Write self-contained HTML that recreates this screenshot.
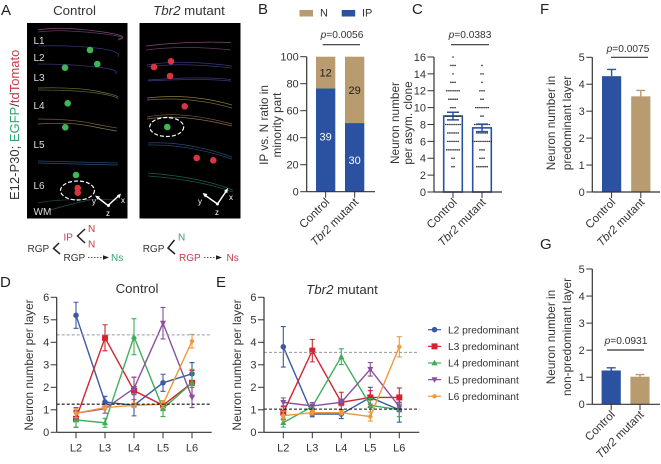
<!DOCTYPE html>
<html lang="en">
<head>
<meta charset="utf-8">
<title>Tbr2 mutant clone analysis</title>
<style>
html,body{margin:0;padding:0;background:#fff;}
svg{display:block;font-family:"Liberation Sans",sans-serif;fill:#333;}
text{font-size:11px;}
.cap{font-size:13.3px;}
.side{font-size:13px;}
.ttl{font-size:11.8px;}
.grp{font-size:11.5px;}
.pv{font-size:10.2px;}
.letter{font-size:15px;fill:#222;}
.ly{font-size:10px;fill:#ddd;}
.sch{font-size:10px;}
.it{font-style:italic;}
</style>
</head>
<body>
<svg id="fig" width="661" height="464" viewBox="0 0 661 464" xmlns="http://www.w3.org/2000/svg" style="filter:blur(.35px)">
<rect width="661" height="464" fill="#fff"/>

<g>
<text class="letter" x="1" y="15">A</text>
<text class="cap" x="74.500" y="15" text-anchor="middle">Control</text>
<text class="cap" x="189" y="15" text-anchor="middle"><tspan class="it">Tbr2</tspan> mutant</text>
<text class="side" transform="translate(19,200) rotate(-90)"><tspan fill="#333">E12-P30; </tspan><tspan fill="#2ea56f">EGFP</tspan><tspan fill="#333">/</tspan><tspan fill="#c8394a">tdTomato</tspan></text>

<rect x="27" y="23" width="100.500" height="195.500" fill="#000"/>
<rect x="139.500" y="23" width="101" height="195.500" fill="#000"/>

<g fill="none" stroke-width=".7" opacity=".75">
<path d="M38 30Q58 26 96 31T118 39" stroke="#a8619a"/><path d="M38 32Q58 29 96 33T118 40" stroke="#80507c"/>
<path d="M38 46Q70 45 96 48T118 57" stroke="#3c4f9e"/>
<path d="M38 64Q70 64 96 67T115 74" stroke="#5a48a8"/>
<path d="M38 88Q75 87 96 91T118 97" stroke="#a09a58"/><path d="M38 90Q75 90 96 93T118 99" stroke="#88844e"/>
<path d="M38 119Q70 119 90 123T117 128" stroke="#a07850"/><path d="M38 124Q70 122 90 126T117 131" stroke="#b09860"/>
<path d="M38 161L118 163" stroke="#3c5a9e"/><path d="M38 163L118 165" stroke="#3c6a9e"/>
<path d="M38 203Q60 198 118 200" stroke="#2f6f68"/><path d="M50 210Q75 203 90 200" stroke="#2f6f68"/>
</g>
<g>
<text class="ly" x="33.500" y="44">L1</text>
<text class="ly" x="33.500" y="61">L2</text>
<text class="ly" x="33.500" y="81">L3</text>
<text class="ly" x="33.500" y="109">L4</text>
<text class="ly" x="33.500" y="148">L5</text>
<text class="ly" x="33.500" y="189">L6</text>
<text class="ly" x="33.500" y="215">WM</text>
</g>
<g>
<g fill="#3fb558">
<circle cx="90" cy="50" r="3.300"/>
<circle cx="97.300" cy="64" r="3.300"/>
<circle cx="65" cy="67.700" r="3.300"/>
<circle cx="67.700" cy="103.300" r="3.300"/>
<circle cx="65.300" cy="127.300" r="3.300"/>
<circle cx="76" cy="175" r="3.300"/>
</g>
<g fill="#d8353f">
<circle cx="77.700" cy="188" r="3.300"/>
<circle cx="77.700" cy="192.700" r="3.300"/>
</g>
<ellipse cx="77.500" cy="190.500" rx="17" ry="9.500" fill="none" stroke="#fff" stroke-width="1.200" stroke-dasharray="4 2"/>
</g>
<g stroke="#fff" stroke-width="1.500" fill="#fff">
<path d="M108 205.500L97 197M108 205.500L119.500 195" fill="none"/>
<path d="M95 195.500L100 196.500L97.500 199.500ZM121 193.500L119.500 198.500L116.800 195.500Z" stroke="none"/>
<circle cx="108.500" cy="205.500" r="1.500" stroke="none"/>
<text x="121" y="203" style="font-size:8px" stroke="none">x</text>
<text x="92" y="204" style="font-size:8px" stroke="none">y</text>
<text x="106" y="216" style="font-size:8px" stroke="none">z</text>
</g>

<g fill="none" stroke-width=".7" opacity=".75">
<path d="M146 46Q185 41 231 42.500" stroke="#a8619a"/><path d="M146 50Q185 45 231 50" stroke="#80507c"/>
<path d="M147 65Q180 59 232 66" stroke="#3c4f9e"/><path d="M147 67Q180 62 232 68" stroke="#4e46a0"/>
<path d="M148 80Q200 76 231 79.500" stroke="#5a48a8"/><path d="M148 81Q200 78 231 81" stroke="#4e46a0"/>
<path d="M147 98Q190 93 232 105" stroke="#b0a850"/><path d="M147 100Q190 96 232 108" stroke="#a08a4e"/>
<path d="M147 117Q180 110 232 124" stroke="#b08050"/><path d="M147 119Q180 113 232 126" stroke="#c09060"/>
<path d="M148 143Q187 141 232 157" stroke="#3c5a9e"/><path d="M148 145Q187 144 232 159" stroke="#3c6a9e"/>
<path d="M148 173Q200 177 233 190" stroke="#2f7f70"/><path d="M148 176Q200 180 233 192" stroke="#2f6f68"/>
</g>
<g>
<g fill="#d8353f">
<circle cx="154" cy="67" r="3.300"/>
<circle cx="171" cy="61.300" r="3.300"/>
<circle cx="170" cy="76" r="3.300"/>
<circle cx="184.700" cy="106.300" r="3.300"/>
<circle cx="196.700" cy="158" r="3.300"/>
<circle cx="213.300" cy="160.300" r="3.300"/>
</g>
<circle cx="167.300" cy="127" r="3.300" fill="#3fb558"/>
<ellipse cx="166.700" cy="127" rx="17" ry="9.500" fill="none" stroke="#fff" stroke-width="1.200" stroke-dasharray="4 2"/>
</g>
<g stroke="#fff" stroke-width="1.500" fill="#fff">
<path d="M217.500 204L204 194.500M217.500 204L227 190" fill="none"/>
<path d="M202.500 193L207.500 194L205 197.500ZM228 188L227.300 193.300L224 191Z" stroke="none"/>
<circle cx="217.500" cy="204" r="1.500" stroke="none"/>
<text x="229" y="200" style="font-size:8px" stroke="none">x</text>
<text x="198" y="204" style="font-size:8px" stroke="none">y</text>
<text x="215" y="215" style="font-size:8px" stroke="none">z</text>
</g>

<g>
<text class="sch" x="27.500" y="252">RGP</text>
<text class="sch" x="63.500" y="240.500" fill="#c8394a">IP</text>
<text class="sch" x="88" y="232" fill="#c8394a">N</text>
<text class="sch" x="88" y="247.500" fill="#c8394a">N</text>
<text class="sch" x="63.500" y="261">RGP</text>
<text class="sch" x="111" y="261" fill="#2ea56f">Ns</text>
<path d="M59 243L53.500 248.500L60 254M85 229L77.500 236L85 243" fill="none" stroke="#222" stroke-width="1.500"/>
<path d="M88 257.500H104" stroke="#222" stroke-width=".8" stroke-dasharray="1.500 1.500"/>
<path d="M103 255.300L109 257.500L103 259.700Z" fill="#222"/>
</g>
<g>
<text class="sch" x="142.700" y="252">RGP</text>
<text class="sch" x="178" y="240.500" fill="#2ea56f">N</text>
<text class="sch" x="179" y="261" fill="#c8394a">RGP</text>
<text class="sch" x="226.500" y="261" fill="#c8394a">Ns</text>
<path d="M174.500 240L168 248L175 254" fill="none" stroke="#222" stroke-width="1.500"/>
<path d="M204 257.500H217" stroke="#222" stroke-width=".8" stroke-dasharray="1.500 1.500"/>
<path d="M216 255.300L222 257.500L216 259.700Z" fill="#222"/>
</g>
</g>

<g id="panel-b">
<text class="letter" x="258" y="14">B</text>
<rect x="299.500" y="10" width="13.500" height="6.500" fill="#b89b6e"/>
<text x="320" y="16.500">N</text>
<rect x="341.700" y="10" width="13.500" height="6.500" fill="#2a52a0"/>
<text x="362" y="16.500">IP</text>
<text class="ttl" text-anchor="middle" transform="translate(268,125) rotate(-90)">IP vs. N ratio in</text>
<text class="ttl" text-anchor="middle" transform="translate(281,125) rotate(-90)">minority part</text>
</g>
<g id="panel-c">
<text class="letter" x="412" y="14">C</text>
<text class="ttl" text-anchor="middle" transform="translate(399,123) rotate(-90)">Neuron number</text>
<text class="ttl" text-anchor="middle" transform="translate(412,123) rotate(-90)">per asym. clone</text>
</g>
<g id="panel-f">
<text class="letter" x="540" y="14">F</text>
<text class="ttl" text-anchor="middle" transform="translate(555,123) rotate(-90)">Neuron number in</text>
<text class="ttl" text-anchor="middle" transform="translate(571,123) rotate(-90)">predominant layer</text>
</g>
<g id="panel-g">
<text class="letter" x="540" y="249">G</text>
<text class="ttl" text-anchor="middle" transform="translate(555,337) rotate(-90)">Neuron number in</text>
<text class="ttl" text-anchor="middle" transform="translate(571,337) rotate(-90)">non-predominant layer</text>
</g>
<g id="panel-d">
<text class="letter" x="0" y="287">D</text>
<text class="cap" x="137" y="293" text-anchor="middle">Control</text>
<text class="ttl" text-anchor="middle" transform="translate(33,365) rotate(-90)">Neuron number per layer</text>
</g>
<g id="panel-e">
<text class="letter" x="216" y="287">E</text>
<text class="cap" x="342" y="294" text-anchor="middle"><tspan class="it">Tbr2</tspan> mutant</text>
<text class="ttl" text-anchor="middle" transform="translate(241,365) rotate(-90)">Neuron number per layer</text>
</g>
<g id="legend"></g>
</svg>

<script>
// ----- Panel B data -----
const groups = ['Control', 'Tbr2 mutant'];
const ipCounts = [39, 30];
const nCounts = [12, 29];
const ticksB = [0, 20, 40, 60, 80, 100];
// ----- Panel C data -----
const ticksC = [0, 2, 4, 6, 8, 10, 12, 14, 16];
const cMeans = [9.0, 7.6];
const cSems = [0.45, 0.45];
const dotLevels = [3, 4, 5, 6, 7, 8, 9, 10, 11, 12, 13, 14, 15, 16];
const dotCountsControl = [2, 2, 7, 6, 6, 8, 8, 3, 5, 7, 3, 1, 3, 1];
const dotCountsMutant = [6, 3, 3, 10, 6, 8, 2, 7, 2, 3, 1, 2, 1, 0];
// ----- Panels F, G data -----
const ticksFG = [0, 1, 2, 3, 4, 5];
const fMeans = [4.3, 3.55];
const fErrs = [0.25, 0.22];
const gMeans = [1.25, 1.02];
const gErrs = [0.1, 0.08];
// ----- Panels D, E data -----
const layers = ['L2', 'L3', 'L4', 'L5', 'L6'];
const ticksLine = [0, 1, 2, 3, 4, 5, 6];
const seriesNames = ['L2 predominant', 'L3 predominant', 'L4 predominant', 'L5 predominant', 'L6 predominant'];
const dL2 = [5.2, 1.35, 1.2, 2.2, 2.6];
const dL2Err = [0.58, 0.25, 0.47, 0.38, 0.5];
const dL3 = [0.6, 4.2, 1.85, 1.2, 2.2];
const dL3Err = [0.38, 0.58, 0.6, 0.2, 0.55];
const dL4 = [0.55, 0.42, 4.25, 1.05, 2.2];
const dL4Err = [0.33, 0.2, 0.8, 0.35, 0.6];
const dL5 = [0.85, 1.05, 1.95, 4.85, 1.55];
const dL5Err = [0.25, 0.2, 0.5, 0.7, 0.45];
const dL6 = [0.85, 1.1, 1.2, 1.25, 4.05];
const dL6Err = [0.2, 0.1, 0.1, 0.15, 0.3];
const eL2 = [3.8, 0.81, 0.81, 1.55, 1.0];
const eL2Err = [0.9, 0.12, 0.2, 0.45, 0.55];
const eL3 = [0.87, 3.63, 1.33, 1.55, 1.55];
const eL3Err = [0.3, 0.5, 0.45, 0.3, 0.42];
const eL4 = [0.43, 1.14, 3.36, 1.2, 1.0];
const eL4Err = [0.2, 0.1, 0.35, 0.3, 0.3];
const eL5 = [1.33, 1.17, 1.33, 2.8, 1.14];
const eL5Err = [0.2, 0.15, 0.15, 0.3, 0.2];
const eL6 = [0.74, 0.87, 0.87, 0.7, 3.8];
const eL6Err = [0.2, 0.1, 0.1, 0.2, 0.45];
const dRefs = [4.33, 1.25];
const eRefs = [3.55, 1.03];

const BLUE = '#2a52a0', TAN = '#b89b6e', INK = '#333';
const colors = ['#3b5aa5', '#d4232f', '#3fae5a', '#8a4f9e', '#ee9a3a'];
const NS = 'http://www.w3.org/2000/svg';

function mk(parent, tag, attrs, text) {
  const el = document.createElementNS(NS, tag);
  for (const k in attrs) el.setAttribute(k, attrs[k]);
  
  if (text !== undefined) el.textContent = text;
  parent.appendChild(el);
  return el;
}
function linear(d0, d1, r0, r1) {
  return v => r0 + (v - d0) * (r1 - r0) / (d1 - d0);
}
function yAxis(g, y, ticks, x, tickLen) {
  const top = y(ticks[ticks.length - 1]), bot = y(ticks[0]);
  const line = mk(g, 'line', {x1: x, x2: x, y1: top, y2: bot, stroke: INK, 'stroke-width': 1.2});
  
  ticks.forEach(t => {
    const m = mk(g, 'line', {x1: x - tickLen, x2: x, y1: y(t), y2: y(t), stroke: INK, 'stroke-width': 1});
    
    const l = mk(g, 'text', {x: x - tickLen - 1.5, y: y(t) + 3.9, 'text-anchor': 'end'}, t);
    
  });
}
function xLine(g, x0, x1, yPos) {
  const line = mk(g, 'line', {x1: x0, x2: x1, y1: yPos, y2: yPos, stroke: INK, 'stroke-width': 1.2});
  
}
function groupLabels(g, xs, yPos) {
  groups.forEach((name, i) => {
    const m = mk(g, 'line', {x1: xs[i], x2: xs[i], y1: yPos, y2: yPos + 6, stroke: INK, 'stroke-width': 1});
    
    const t = mk(g, 'text', {class: 'grp', 'text-anchor': 'end', transform: `translate(${xs[i] + 4.5},${yPos + 11}) rotate(-45)`});
    
    if (name.startsWith('Tbr2')) {
      const a = mk(t, 'tspan', {class: 'it'}, 'Tbr2');
      
      t.appendChild(document.createTextNode(name.slice(4)));
    } else t.textContent = name;
  });
}
function pBracket(g, label, cx, baseY, x0, x1, lineY) {
  const t = mk(g, 'text', {class: 'pv', x: cx, y: baseY, 'text-anchor': 'middle'});
  
  const a = mk(t, 'tspan', {class: 'it'}, 'p');
  
  t.appendChild(document.createTextNode('=' + label));
  const l = mk(g, 'line', {x1: x0, x2: x1, y1: lineY, y2: lineY, stroke: INK, 'stroke-width': 1.2});
  
}

// Panel B
(function () {
  const g = document.getElementById('panel-b');
  const y = linear(0, 100, 191.7, 56.7);
  const xl = [316, 345], w = 19.3;
  const ipNudge = [-3.7, 2.6];
  groups.forEach((name, i) => {
    const total = ipCounts[i] + nCounts[i];
    const ipPct = ipCounts[i] / total * 100;
    const ip = mk(g, 'rect', {x: xl[i], width: w, y: y(ipPct), height: y(0) - y(ipPct), fill: BLUE});
    
    const n = mk(g, 'rect', {x: xl[i], width: w, y: y(100), height: y(ipPct) - y(100), fill: TAN});
    
    const a = mk(g, 'text', {x: xl[i] + w / 2, y: y(ipPct / 2) + ipNudge[i] + 3.9, 'text-anchor': 'middle', fill: '#fff'}, ipCounts[i]);
    
    const b = mk(g, 'text', {x: xl[i] + w / 2, y: y(ipPct + (100 - ipPct) / 2) + 3.9, 'text-anchor': 'middle', fill: '#222'}, nCounts[i]);
    
  });
  yAxis(g, y, ticksB, 306.7, 6.5);
  xLine(g, 306.7, 375, y(0));
  groupLabels(g, xl.map(v => v + w / 2), y(0));
  pBracket(g, '0.0056', 342, 38, 322.7, 360, 44.7);
})();

// Panel C
(function () {
  const g = document.getElementById('panel-c');
  const y = linear(0, 16, 192, 57);
  const xl = [443.7, 472.7], w = 18.6;
  const counts = [dotCountsControl, dotCountsMutant];
  groups.forEach((name, i) => {
    const r = mk(g, 'rect', {x: xl[i], width: w, y: y(cMeans[i]), height: y(0) - y(cMeans[i]), fill: '#fff', stroke: BLUE, 'stroke-width': 1.6});
    
    const cx = xl[i] + w / 2;
    dotLevels.forEach((lv, k) => {
      for (let d = 0; d < counts[i][k]; d++) {
        const c = mk(g, 'circle', {cx: cx + (d - (counts[i][k] - 1) / 2) * 2.05, cy: y(lv), r: 0.8, fill: '#222'});
        
      }
    });
    const hi = y(cMeans[i] + cSems[i]), lo = y(cMeans[i] - cSems[i]);
    const e = mk(g, 'path', {d: `M${cx - 6} ${hi}H${cx + 6}M${cx} ${hi}V${lo}M${cx - 6} ${lo}H${cx + 6}`, fill: 'none', stroke: BLUE, 'stroke-width': 1.5});
    
  });
  yAxis(g, y, ticksC, 434, 6.5);
  xLine(g, 434, 502, y(0));
  groupLabels(g, xl.map(v => v + w / 2), y(0));
  pBracket(g, '0.0383', 470, 38, 451, 489, 44.7);
})();

// Panels F and G
function simpleBars(id, means, errs, y0, y5, xl, p) {
  const g = document.getElementById(id);
  const y = linear(0, 5, y0, y5);
  const w = 19.2, cols = [BLUE, TAN];
  means.forEach((m, i) => {
    const cx = xl[i] + w / 2, hi = y(m + errs[i]);
    const e = mk(g, 'path', {d: `M${cx - 4.500} ${hi}H${cx + 4.500}M${cx} ${hi}V${y(m)}`, fill: 'none', stroke: cols[i], 'stroke-width': 1.4});
    
    const r = mk(g, 'rect', {x: xl[i], width: w, y: y(m), height: y(0) - y(m), fill: cols[i]});
    
  });
  yAxis(g, y, ticksFG, 592.3, 6);
  xLine(g, 592.3, 660, y(0));
  groupLabels(g, xl.map(v => v + w / 2), y(0));
  pBracket(g, p.label, p.cx, p.base, p.x0, p.x1, p.line);
}
simpleBars('panel-f', fMeans, fErrs, 192, 57.3, [602, 631.2], {label: '0.0075', cx: 628, base: 52, x0: 611, x1: 648, line: 57.3});
simpleBars('panel-g', gMeans, gErrs, 404.3, 269, [601.6, 630.4], {label: '0.0931', cx: 626, base: 344, x0: 607, x1: 644, line: 350});

// Panels D and E
function marker(g, k, x, y, color) {
  const s = 3;
  const pts = [null, null,
    `${x},${y - s - .4} ${x + s},${y + s - .6} ${x - s},${y + s - .6}`,
    `${x},${y + s + .4} ${x + s},${y - s + .6} ${x - s},${y - s + .6}`,
    null];
  let m;
  if (k === 1) m = mk(g, 'rect', {x: x - s, y: y - s, width: 2 * s, height: 2 * s, fill: color});
  else if (pts[k]) m = mk(g, 'polygon', {points: pts[k], fill: color});
  else m = mk(g, 'circle', {cx: x, cy: y, r: k === 4 ? 2.2 : s - .2, fill: color});
  
}
function lineChart(id, xFirst, axisX, axisEnd, series, errs, refs) {
  const g = document.getElementById(id);
  const y = linear(0, 6, 432.3, 297.3);
  const x = i => xFirst + i * 29;
  series.forEach((vals, k) => {
    const color = colors[k];
    const path = mk(g, 'polyline', {points: vals.map((v, i) => x(i) + ',' + y(v)).join(' '), fill: 'none', stroke: color, 'stroke-width': 1.4});
    
    vals.forEach((v, i) => {
      const hi = y(v + errs[k][i]), lo = y(Math.max(0, v - errs[k][i])), X = x(i);
      const e = mk(g, 'path', {d: `M${X - 2.500} ${hi}H${X + 2.500}M${X} ${hi}V${lo}M${X - 2.500} ${lo}H${X + 2.500}`, fill: 'none', stroke: color, 'stroke-width': 1.1});
      
      marker(g, k, X, y(v), color);
    });
  });
  const r0 = mk(g, 'line', {x1: axisX, x2: axisEnd, y1: y(refs[0]), y2: y(refs[0]), stroke: '#999', 'stroke-width': 1, 'stroke-dasharray': '3 2'});
  
  const r1 = mk(g, 'line', {x1: axisX, x2: axisEnd, y1: y(refs[1]), y2: y(refs[1]), stroke: '#111', 'stroke-width': 1.1, 'stroke-dasharray': '3 2'});
  
  yAxis(g, y, ticksLine, axisX, 6);
  xLine(g, axisX, axisEnd, y(0));
  layers.forEach((name, i) => {
    const m = mk(g, 'line', {x1: x(i), x2: x(i), y1: y(0), y2: y(0) + 6, stroke: INK, 'stroke-width': 1});
    
    const t = mk(g, 'text', {x: x(i), y: y(0) + 19, 'text-anchor': 'middle'}, name);
    
  });
}
lineChart('panel-d', 76, 56.7, 211.7, [dL2, dL3, dL4, dL5, dL6], [dL2Err, dL3Err, dL4Err, dL5Err, dL6Err], dRefs);
lineChart('panel-e', 283.3, 264, 419.3, [eL2, eL3, eL4, eL5, eL6], [eL2Err, eL3Err, eL4Err, eL5Err, eL6Err], eRefs);

// Legend
(function () {
  const g = document.getElementById('legend');
  seriesNames.forEach((name, k) => {
    const yy = 329.7 + k * 16.65;
    const l = mk(g, 'line', {x1: 428, x2: 441, y1: yy, y2: yy, stroke: colors[k], 'stroke-width': 1.2});
    
    marker(g, k, 434.5, yy, colors[k]);
    const t = mk(g, 'text', {x: 448, y: yy + 3.600, style: 'font-size:10.2px'}, name);
    
  });
})();
</script>
</body>
</html>
